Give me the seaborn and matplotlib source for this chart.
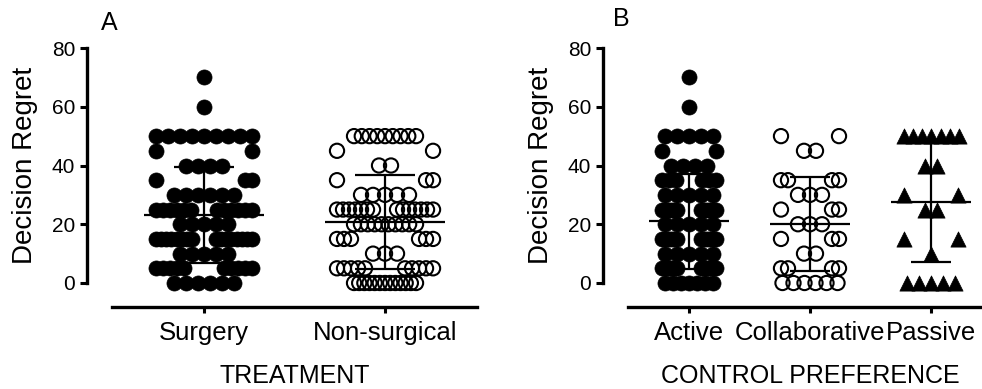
import numpy as np
import pandas as pd
import matplotlib
matplotlib.use("Agg")
import matplotlib.pyplot as plt
import seaborn as sns

# Decision Regret scores (rows of the scatter) and respondent counts per score
scores = [70, 60, 50, 45, 40, 35, 30, 25, 20, 15, 10, 5, 0]

surgery_counts       = [1, 1, 9, 2, 4, 3, 6, 12, 5, 16, 5, 10, 6]
nonsurgical_counts   = [0, 0, 9, 2, 2, 3, 5, 14, 10, 6, 3, 10, 13]
active_counts        = [1, 1, 5, 2, 4, 6, 5, 12, 5, 12, 5, 16, 7]
collaborative_counts = [0, 0, 2, 2, 0, 4, 3, 3, 3, 3, 2, 4, 6]
passive_counts       = [0, 0, 7, 0, 2, 0, 2, 2, 0, 2, 1, 0, 5]

treatment_labels = ["Surgery", "Non-surgical"]
preference_labels = ["Active", "Collaborative", "Passive"]

sns.set_theme(style="ticks")
plt.rcParams["font.family"] = ["Liberation Sans", "DejaVu Sans"]
plt.rcParams["text.color"] = "black"
plt.rcParams["axes.labelcolor"] = "black"
plt.rcParams["xtick.color"] = "black"
plt.rcParams["ytick.color"] = "black"


def expand(counts):
    return np.repeat(np.array(scores, dtype=float), counts)


def row_offsets(values, px, center_span, split_outer, split_inner=12,
                step_c=12, step_s=7, row_gap=5):
    """Lay tied scores out in rows; a row sitting just above a centred row
    is pushed out to both sides so neighbouring rows do not collide.
    Sizes are given in pixels and converted with px (pixels per unit)."""
    offs = np.zeros(len(values))
    layout = {}
    for v in sorted(np.unique(values)):
        idx = np.where(values == v)[0]
        n = len(idx)
        split = layout.get(v - row_gap) == "centre" and n > 1
        layout[v] = "split" if split else "centre"
        if not split:
            if n > 1:
                gap = min(step_c, center_span / (n - 1))
                offs[idx] = (np.arange(n) - (n - 1) / 2) * gap / px
        else:
            left = n // 2
            right = n - left
            pos = []
            for k, sign in ((left, -1), (right, 1)):
                if k == 1:
                    pos += [sign * split_outer]
                elif k > 1:
                    g = min(step_s, (split_outer - split_inner) / (k - 1))
                    pos += [sign * (split_outer - j * g) for j in range(k)]
            offs[idx] = np.array(pos) / px
    return offs


def build(labels, count_lists, px, spans):
    frames = []
    for i, (lab, cnt) in enumerate(zip(labels, count_lists)):
        vals = expand(cnt)
        cs, so = spans[lab]
        frames.append(pd.DataFrame({
            "group": lab,
            "pos": i + row_offsets(vals, px, cs, so),
            "score": vals,
            "idx": i,
        }))
    return pd.concat(frames, ignore_index=True)


treat_df = build(treatment_labels, [surgery_counts, nonsurgical_counts],
                 px=181.0,
                 spans={"Surgery": (96, 48), "Non-surgical": (62, 48)})
pref_df = build(preference_labels,
                [active_counts, collaborative_counts, passive_counts],
                px=121.3,
                spans={"Active": (48, 27), "Collaborative": (55, 29),
                       "Passive": (55, 27)})

W, H = 982, 389
fig = plt.figure(figsize=(W / 100, H / 100), dpi=100)
axA = fig.add_axes([112 / W, (H - 283) / H, (477 - 112) / W, (283 - 48) / H])
axB = fig.add_axes([628 / W, (H - 283) / H, (992 - 628) / W, (283 - 48) / H])

filled = dict(marker="o", s=118, color="black", edgecolor="black",
              linewidth=0.5)
hollow = dict(marker="o", s=105, facecolors="none", edgecolor="black",
              linewidth=1.5)
tri = dict(marker="^", s=120, color="black", edgecolor="black", linewidth=0.5)

styles_A = {"Surgery": filled, "Non-surgical": hollow}
styles_B = {"Active": filled, "Collaborative": hollow, "Passive": tri}


def draw(ax, df, labels, styles, xlim, xlabel):
    for lab in labels:
        sub = df[df["group"] == lab]
        sns.scatterplot(data=sub, x="pos", y="score", ax=ax, legend=False,
                        clip_on=False, zorder=3, **styles[lab])
    stats = df.groupby("idx")["score"].agg(["mean", "std"])
    for i, row in stats.iterrows():
        m, sd = row["mean"], row["std"]
        kw = dict(color="black", linewidth=1.6, zorder=4, clip_on=False)
        ax.hlines(m, i - 0.33, i + 0.33, **kw)
        ax.vlines(i, m - sd, m + sd, **kw)
        ax.hlines([m - sd, m + sd], i - 0.165, i + 0.165, **kw)

    ax.set_xlim(*xlim)
    ax.set_ylim(0, 80)
    ax.set_yticks([0, 20, 40, 60, 80])
    ax.set_xticks(range(len(labels)))
    ax.set_xticklabels(labels)
    ax.tick_params(axis="y", labelsize=15, length=5, width=2.2, pad=3.5)
    ax.tick_params(axis="x", labelsize=18.5, length=4, width=2.2, pad=6)
    ax.set_ylabel("Decision Regret", fontsize=20, labelpad=10)
    ax.set_xlabel(xlabel, fontsize=18, labelpad=14)
    for side in ("top", "right"):
        ax.spines[side].set_visible(False)
    ax.spines["left"].set_position(("outward", 18))
    ax.spines["bottom"].set_position(("outward", 17.3))
    for side in ("left", "bottom"):
        ax.spines[side].set_linewidth(2.4)
        ax.spines[side].set_color("black")
    ax.set_facecolor("none")


draw(axA, treat_df, treatment_labels, styles_A, (-0.508, 1.508), "TREATMENT")
draw(axB, pref_df, preference_labels, styles_B, (-0.5, 2.5),
     "CONTROL PREFERENCE")

fig.text(109 / W, 1 - 23 / H, "A", fontsize=18, ha="center", va="center")
fig.text(621 / W, 1 - 19 / H, "B", fontsize=18, ha="center", va="center")

fig.savefig("out.png", dpi=100, facecolor="white")
